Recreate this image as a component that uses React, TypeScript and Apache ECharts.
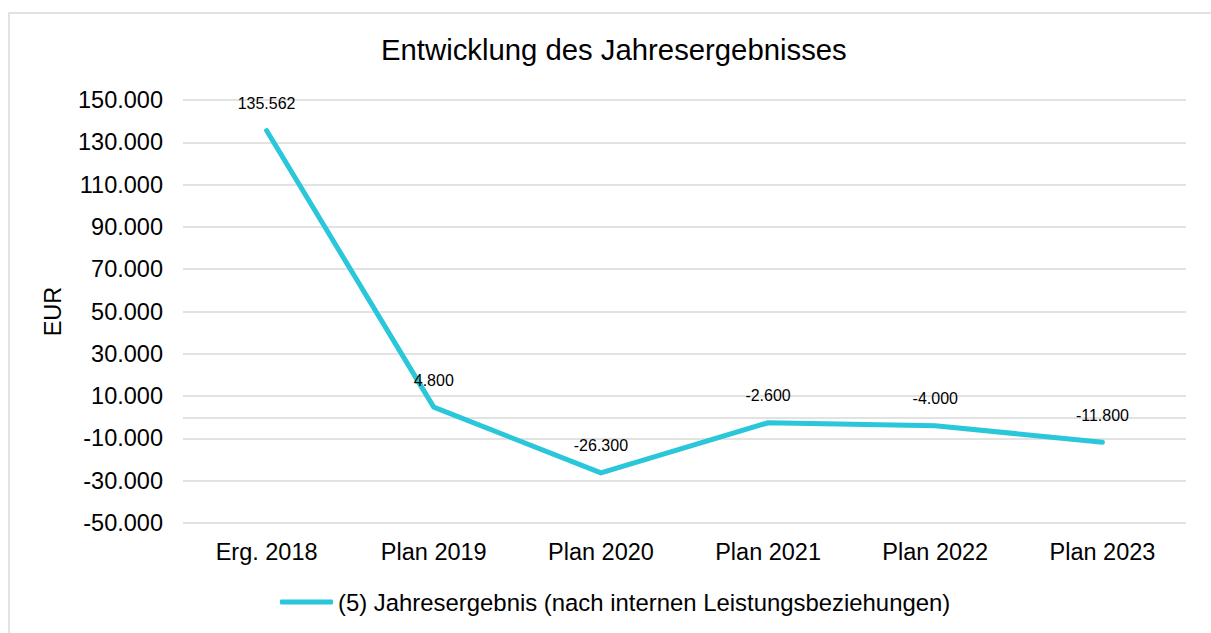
import React, { useEffect, useRef } from "react";
import * as echarts from "echarts";

const categories = ["Erg. 2018", "Plan 2019", "Plan 2020", "Plan 2021", "Plan 2022", "Plan 2023"];
const values = [135562, 4800, -26300, -2600, -4000, -11800];
const tickLabelValues = [-50000, -30000, -10000, 10000, 30000, 50000, 70000, 90000, 110000, 130000, 150000];
const gridLineValues = [-50000, -30000, -10000, 0, 10000, 30000, 50000, 70000, 90000, 110000, 130000, 150000];
const seriesName = "(5) Jahresergebnis (nach internen Leistungsbeziehungen)";
const titleText = "Entwicklung des Jahresergebnisses";
const axisName = "EUR";

function fmt(v: number): string {
  const neg = v < 0;
  const s = String(Math.round(Math.abs(v)));
  const withDots = s.replace(/\B(?=(\d{3})+(?!\d))/g, ".");
  return (neg ? "-" : "") + withDots;
}

const FONT = "'Liberation Sans', Arial, Helvetica, sans-serif";
const LINE = "#29C7D9";
const GRID = "#d9d9d9";
const FS = 23.5;

export default function App() {
  const ref = useRef<HTMLDivElement>(null);
  useEffect(() => {
    document.body.style.margin = "0";
    if (!ref.current) return;
    const chart = echarts.init(ref.current, null, { renderer: "svg" });
    chart.setOption({
      animation: false,
      backgroundColor: "#ffffff",
      textStyle: { fontFamily: FONT },
      title: {
        text: titleText,
        left: 376,
        top: 30,
        textStyle: { fontFamily: FONT, fontSize: 29.3, fontWeight: "normal", color: "#000" },
      },
      graphic: [
        {
          type: "rect",
          shape: { x: 9, y: 13, width: 1220, height: 660 },
          style: { fill: "none", stroke: GRID, lineWidth: 1.5 },
          silent: true,
          z: -1,
        },
      ],
      legend: {
        data: [seriesName],
        bottom: 14,
        left: 275,
        icon: "roundRect",
        itemWidth: 53,
        itemHeight: 5,
        itemGap: 10,
        textStyle: { fontFamily: FONT, fontSize: 23.9, color: "#000" },
      },
      grid: { left: 183, right: 25, top: 100, bottom: 110 },
      xAxis: {
        type: "category",
        data: categories,
        boundaryGap: true,
        axisLine: { show: false },
        axisTick: { show: false },
        axisLabel: { fontFamily: FONT, fontSize: FS, color: "#000", margin: 17 },
      },
      yAxis: {
        type: "value",
        min: -50000,
        max: 150000,
        name: axisName,
        nameLocation: "middle",
        nameGap: 118,
        nameRotate: 90,
        nameTextStyle: { fontFamily: FONT, fontSize: FS, color: "#000" },
        axisLine: { show: false },
        axisTick: { show: false, customValues: gridLineValues },
        axisLabel: {
          customValues: tickLabelValues,
          fontFamily: FONT,
          fontSize: FS,
          color: "#000",
          margin: 20,
          formatter: (v: number) => fmt(v),
        },
        splitLine: { show: true, lineStyle: { color: GRID, width: 1.5 } },
      },
      series: [
        {
          name: seriesName,
          type: "line",
          data: values,
          symbol: "circle",
          symbolSize: 0.1,
          showSymbol: true,
          lineStyle: { color: LINE, width: 5, cap: "round", join: "round" },
          itemStyle: { color: LINE },
          label: {
            show: true,
            position: "top",
            distance: 19,
            fontFamily: FONT,
            fontSize: 16,
            color: "#000",
            formatter: (p: any) => fmt(p.value),
          },
        },
      ],
    });
    return () => chart.dispose();
  }, []);
  return <div ref={ref} style={{ width: 1211, height: 633 }} />;
}
